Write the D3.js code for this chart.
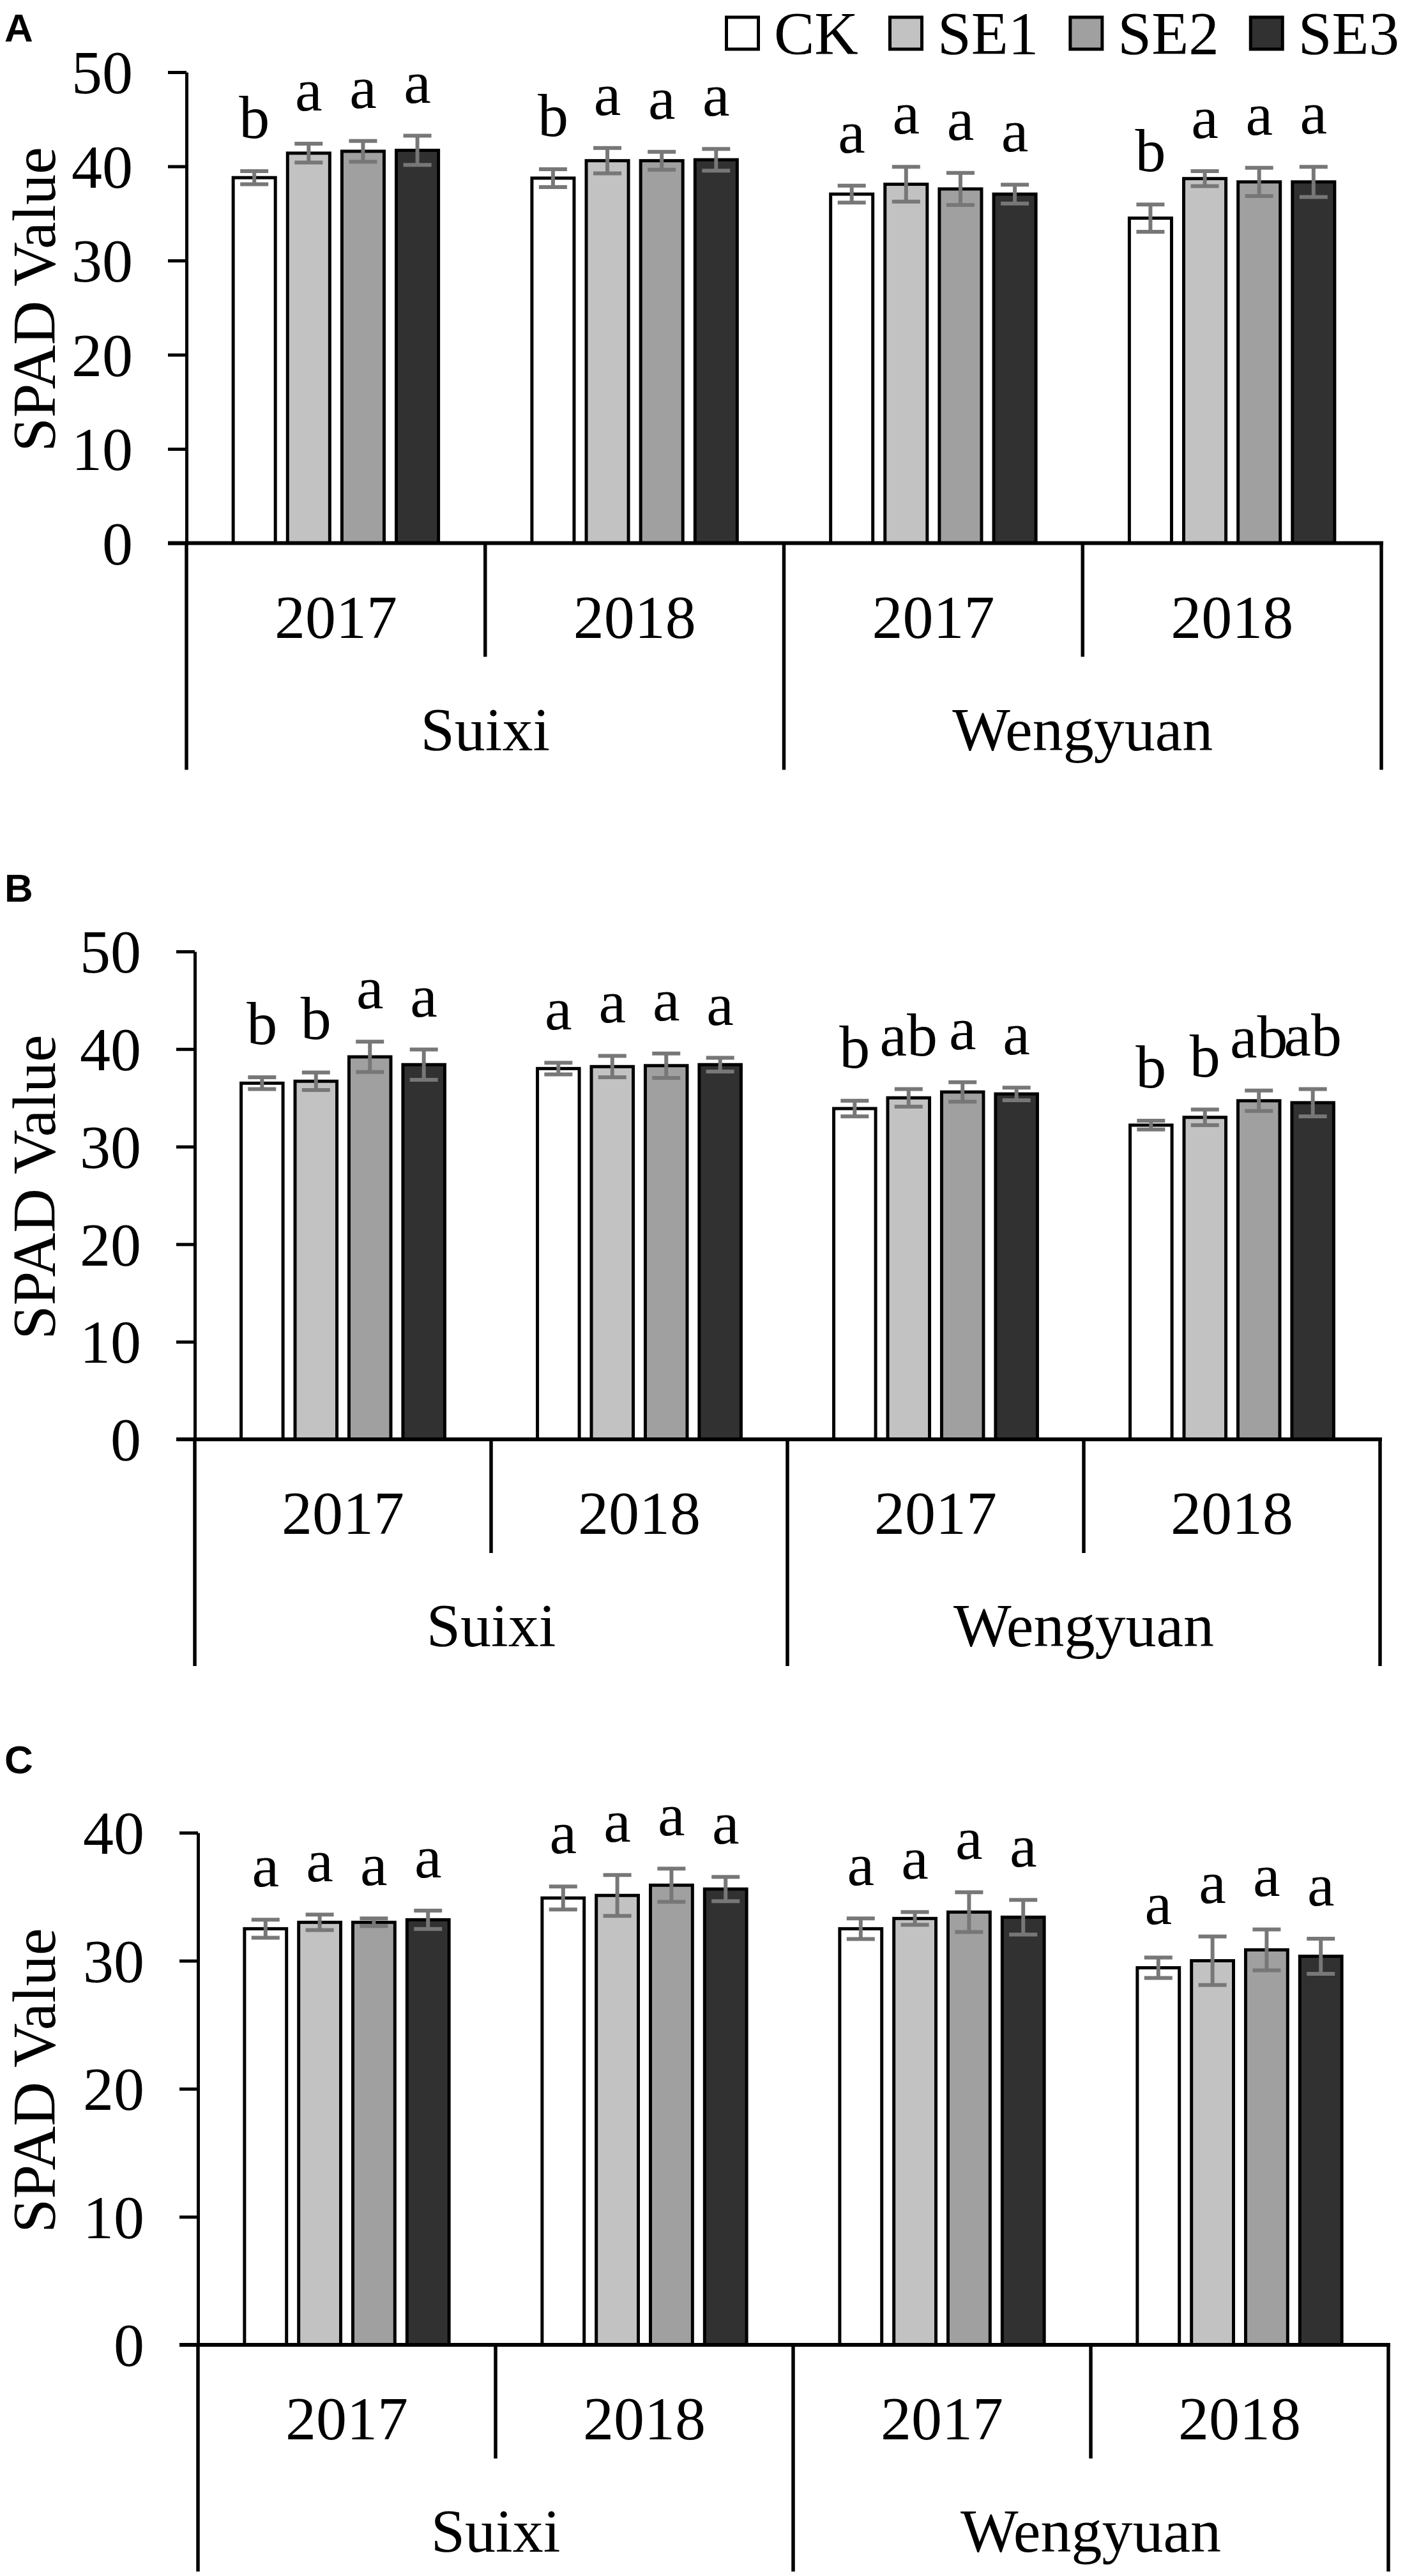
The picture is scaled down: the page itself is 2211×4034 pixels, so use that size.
<!DOCTYPE html>
<html>
<head>
<meta charset="utf-8">
<script src="https://cdn.jsdelivr.net/npm/d3@7"></script>
<style>
  body { margin: 0; background: #fff; }
  svg { display: block; }
</style>
</head>
<body>
<div id="chart"></div>
<script>
const W = 2211, H = 4034;

// categories
const series = ["CK", "SE1", "SE2", "SE3"];
const groups = ["S2017", "S2018", "W2017", "W2018"];
const yearLabels = ["2017", "2018", "2017", "2018"];
const sites = ["Suixi", "Wengyuan"];
const colors = ["#ffffff", "#c2c2c2", "#a0a0a0", "#313131"];

// panel A: means and errors, one array per treatment (groups in order)
const meanA_CK = [38.8, 38.75, 37.05, 34.5];
const meanA_SE1 = [41.4, 40.6, 38.1, 38.7];
const meanA_SE2 = [41.6, 40.6, 37.6, 38.35];
const meanA_SE3 = [41.7, 40.7, 37.05, 38.35];
const errA_CK = [0.7, 0.95, 0.9, 1.45];
const errA_SE1 = [1.0, 1.35, 1.85, 0.8];
const errA_SE2 = [1.1, 0.95, 1.7, 1.5];
const errA_SE3 = [1.55, 1.15, 1.0, 1.6];
const letA_CK = ["b", "b", "a", "b"];
const letA_SE1 = ["a", "a", "a", "a"];
const letA_SE2 = ["a", "a", "a", "a"];
const letA_SE3 = ["a", "a", "a", "a"];

// panel B
const meanB_CK = [36.5, 38.0, 33.9, 32.2];
const meanB_SE1 = [36.7, 38.2, 35.0, 33.0];
const meanB_SE2 = [39.2, 38.3, 35.6, 34.7];
const meanB_SE3 = [38.4, 38.4, 35.4, 34.5];
const errB_CK = [0.6, 0.6, 0.8, 0.45];
const errB_SE1 = [0.9, 1.1, 0.9, 0.8];
const errB_SE2 = [1.55, 1.25, 1.0, 1.05];
const errB_SE3 = [1.55, 0.7, 0.65, 1.4];
const letB_CK = ["b", "a", "b", "b"];
const letB_SE1 = ["b", "a", "ab", "b"];
const letB_SE2 = ["a", "a", "a", "ab"];
const letB_SE3 = ["a", "a", "a", "ab"];

// panel C
const meanC_CK = [32.5, 34.9, 32.5, 29.45];
const meanC_SE1 = [33.0, 35.1, 33.3, 30.0];
const meanC_SE2 = [33.0, 35.9, 33.8, 30.85];
const meanC_SE3 = [33.2, 35.6, 33.4, 30.35];
const errC_CK = [0.7, 0.9, 0.8, 0.8];
const errC_SE1 = [0.6, 1.6, 0.5, 1.9];
const errC_SE2 = [0.3, 1.3, 1.55, 1.6];
const errC_SE3 = [0.72, 0.95, 1.35, 1.37];
const letC = ["a", "a", "a", "a"];

const ticksA = [0, 10, 20, 30, 40, 50];
const ticksB = [0, 10, 20, 30, 40, 50];
const ticksC = [0, 10, 20, 30, 40];

const serif = "'Liberation Serif', 'Times New Roman', serif";
const sans = "'Liberation Sans', Arial, sans-serif";

const svg = d3.select("#chart").append("svg")
    .attr("width", W).attr("height", H);
svg.append("rect").attr("width", W).attr("height", H).attr("fill", "#fff");

const panels = [
    { label: "A", labelY: 65, top: 113, zero: 850.5, left: 292, right: 2163, yMax: 50, ticks: ticksA,
      means: [meanA_CK, meanA_SE1, meanA_SE2, meanA_SE3],
      errs: [errA_CK, errA_SE1, errA_SE2, errA_SE3],
      lets: [letA_CK, letA_SE1, letA_SE2, letA_SE3] },
    { label: "B", labelY: 1412, top: 1490, zero: 2254, left: 305, right: 2161, yMax: 50, ticks: ticksB,
      means: [meanB_CK, meanB_SE1, meanB_SE2, meanB_SE3],
      errs: [errB_CK, errB_SE1, errB_SE2, errB_SE3],
      lets: [letB_CK, letB_SE1, letB_SE2, letB_SE3] },
    { label: "C", labelY: 2777, top: 2870, zero: 3672, left: 310, right: 2174, yMax: 40, ticks: ticksC,
      means: [meanC_CK, meanC_SE1, meanC_SE2, meanC_SE3],
      errs: [errC_CK, errC_SE1, errC_SE2, errC_SE3],
      lets: [letC, letC, letC, letC] }
];

function drawPanel(p) {
    const g = svg.append("g");

    const y = d3.scaleLinear().domain([0, p.yMax]).range([p.zero, p.top]);
    const x0 = d3.scaleBand().domain(groups).range([p.left, p.right]);
    const gw = x0.bandwidth();
    const x1 = d3.scaleBand().domain(series)
        .range([gw * 0.136, gw * 0.864])
        .paddingInner(0.224).paddingOuter(0.112);

    // panel letter
    g.append("text").attr("x", 7).attr("y", p.labelY)
        .attr("font-family", sans).attr("font-weight", "bold")
        .attr("font-size", 62).text(p.label);

    // y axis
    const yAxis = d3.axisLeft(y).tickValues(p.ticks).tickSize(29).tickSizeOuter(0).tickPadding(55);
    const ya = g.append("g").attr("transform", `translate(${p.left},0)`).call(yAxis);
    ya.select(".domain").attr("stroke", "#000").attr("stroke-width", 5);
    ya.selectAll(".tick line").attr("stroke", "#000").attr("stroke-width", 5);
    ya.selectAll(".tick text").attr("font-family", serif).attr("font-size", 96)
        .attr("fill", "#000").attr("dy", "0.34em");

    // y title
    g.append("text")
        .attr("transform", `translate(86,${(p.top + p.zero) / 2 - 13}) rotate(-90)`)
        .attr("text-anchor", "middle")
        .attr("font-family", serif).attr("font-size", 96)
        .text("SPAD Value");

    // bars
    const rows = [];
    groups.forEach((grp, gi) => {
        series.forEach((s, si) => {
            rows.push({ grp, s, si, v: p.means[si][gi], e: p.errs[si][gi], l: p.lets[si][gi] });
        });
    });

    g.append("g").selectAll("rect").data(rows).join("rect")
        .attr("x", d => x0(d.grp) + x1(d.s))
        .attr("y", d => y(d.v))
        .attr("width", x1.bandwidth())
        .attr("height", d => p.zero - y(d.v))
        .attr("fill", d => colors[d.si])
        .attr("stroke", "#000").attr("stroke-width", 5);

    // x axis line and category dividers
    g.append("line").attr("x1", p.left - 29).attr("x2", p.right + 3)
        .attr("y1", p.zero).attr("y2", p.zero)
        .attr("stroke", "#000").attr("stroke-width", 6);

    const bounds = [p.left].concat(groups.map(grp => x0(grp) + gw));
    bounds.forEach((bx, i) => {
        const long = i % 2 === 0;
        g.append("line").attr("x1", bx).attr("x2", bx)
            .attr("y1", p.zero).attr("y2", p.zero + (long ? 355 : 178))
            .attr("stroke", "#000").attr("stroke-width", 5.5);
    });

    g.append("g").selectAll("text").data(groups).join("text")
        .attr("x", d => x0(d) + gw / 2)
        .attr("y", p.zero + 148)
        .attr("text-anchor", "middle")
        .attr("font-family", serif).attr("font-size", 96)
        .text((d, i) => yearLabels[i]);

    g.append("g").selectAll("text").data(sites).join("text")
        .attr("x", (d, i) => x0(groups[i * 2]) + gw)
        .attr("y", p.zero + 324)
        .attr("text-anchor", "middle")
        .attr("font-family", serif).attr("font-size", 96)
        .text(d => d);

    // error bars
    const eb = g.append("g").attr("stroke", "#777").attr("stroke-width", 6);
    rows.forEach(d => {
        const cx = x0(d.grp) + x1(d.s) + x1.bandwidth() / 2;
        const yt = y(d.v + d.e), yb = y(d.v - d.e);
        eb.append("line").attr("x1", cx).attr("x2", cx).attr("y1", yt).attr("y2", yb);
        eb.append("line").attr("x1", cx - 22).attr("x2", cx + 22).attr("y1", yt).attr("y2", yt);
        eb.append("line").attr("x1", cx - 22).attr("x2", cx + 22).attr("y1", yb).attr("y2", yb);
    });

    // significance letters
    g.append("g").selectAll("text").data(rows).join("text")
        .attr("x", d => x0(d.grp) + x1(d.s) + x1.bandwidth() / 2)
        .attr("y", d => y(d.v + d.e) - 52)
        .attr("text-anchor", "middle")
        .attr("font-family", serif).attr("font-size", 96)
        .text(d => d.l);
}

panels.forEach(drawPanel);

// legend
const leg = svg.append("g");
let lx = 1135;
series.forEach((s, i) => {
    leg.append("rect").attr("x", lx + 2.5).attr("y", 27).attr("width", 50).attr("height", 50)
        .attr("fill", colors[i]).attr("stroke", "#000").attr("stroke-width", 5);
    const t = leg.append("text").attr("x", lx + 77).attr("y", 85)
        .attr("font-family", serif).attr("font-size", 95).text(s);
    lx += 77 + t.node().getComputedTextLength() + 47;
});
</script>
</body>
</html>
